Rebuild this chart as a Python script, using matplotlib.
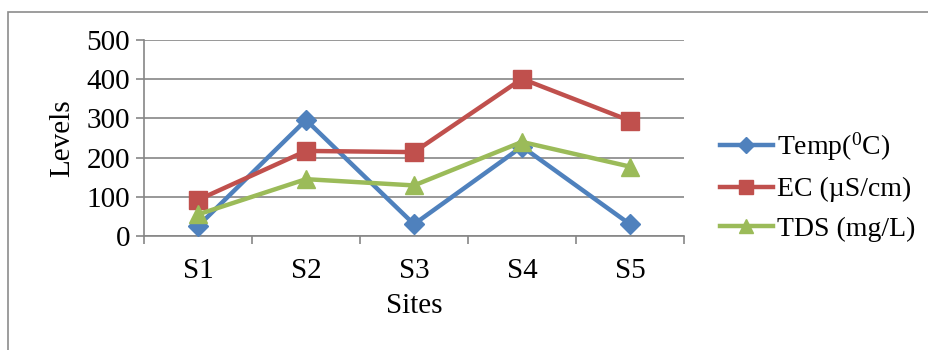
import matplotlib
matplotlib.use("Agg")
import matplotlib.pyplot as plt
from matplotlib.patches import Rectangle

plt.rcParams["font.family"] = ["Liberation Serif", "DejaVu Serif"]
plt.rcParams["mathtext.fontset"] = "custom"
plt.rcParams["mathtext.rm"] = "Liberation Serif"

sites = ["S1", "S2", "S3", "S4", "S5"]
temp = [25, 296, 30, 228, 30]
ec = [92, 217, 214, 401, 294]
tds = [55, 145, 129, 240, 177]
yticks = [0, 100, 200, 300, 400, 500]

BLUE, RED, GREEN = "#4F81BD", "#C0504D", "#9BBB59"
GRID = "#868686"
FS = 21

fig = plt.figure(figsize=(9.29, 3.5), dpi=100)
ax = fig.add_axes([144 / 929, 1 - 236 / 350, 540 / 929, 196 / 350])

# outer chart frame (only left and top edges fall inside the canvas)
fig.patches.append(Rectangle((8 / 929, -0.1), 2, 1 - 12 / 350 + 0.1,
                             transform=fig.transFigure, fill=False,
                             edgecolor="#8C8C8C", lw=1.2))

xs = [i + 0.5 for i in range(len(sites))]
ax.plot(xs, temp, color=BLUE, lw=3.2, marker="D", ms=10, mec=BLUE,
        label=r"Temp($\mathregular{^0}$C)", zorder=3)
ax.plot(xs, ec, color=RED, lw=3.2, marker="s", ms=13, mec=RED,
        label="EC (\u00b5S/cm)", zorder=3)
ax.plot(xs, tds, color=GREEN, lw=3.2, marker="^", ms=13, mec=GREEN,
        label="TDS (mg/L)", zorder=4)

ax.set_xlim(0, 5)
ax.set_ylim(0, 500)
ax.set_yticks(yticks)
ax.set_xticks(range(6))
ax.set_xticklabels([])
ax.set_xticks(xs, minor=True)
ax.set_xticklabels(sites, minor=True)
ax.tick_params(axis="x", which="minor", length=0, pad=16, labelsize=FS)
ax.tick_params(axis="x", which="major", length=6, width=1.2, color=GRID,
               direction="out")
ax.tick_params(axis="y", length=6, width=1.2, color=GRID, labelsize=FS, pad=4)
ax.yaxis.grid(True, color=GRID, lw=1.2)
ax.set_axisbelow(True)
for s in ("top", "right"):
    ax.spines[s].set_visible(False)
for s in ("left", "bottom"):
    ax.spines[s].set_color(GRID)
    ax.spines[s].set_linewidth(1.2)

ax.set_ylabel("Levels", fontsize=FS, labelpad=8)
ax.set_xlabel("Sites", fontsize=FS, labelpad=6)

fig.legend(loc="center left", bbox_to_anchor=(720 / 929, 1 - 186 / 350),
           frameon=False, fontsize=20, handlelength=1.9, handletextpad=0.15,
           labelspacing=0.5, borderpad=0, borderaxespad=0, markerscale=0.8)

fig.savefig("out.png", facecolor="white")
